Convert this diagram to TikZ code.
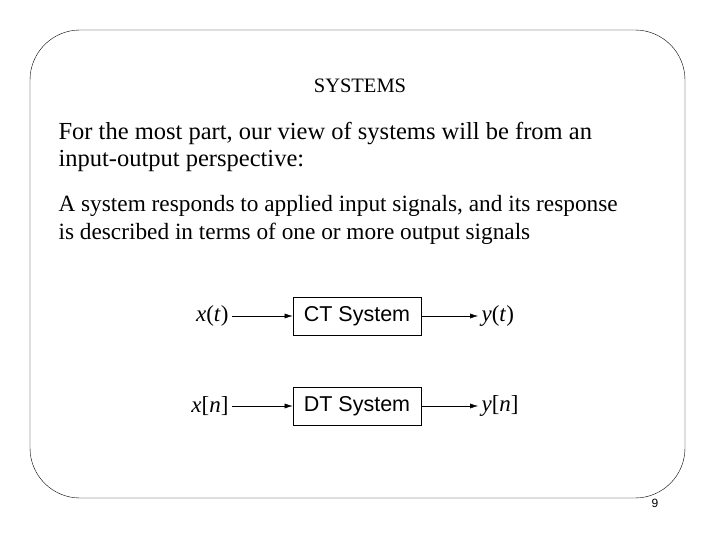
\documentclass[tikz,border=0pt]{standalone}
\usepackage{fontspec}
\setmainfont{Liberation Serif}
\setsansfont{Liberation Sans}
\usetikzlibrary{arrows.meta}
\begin{document}
\begin{tikzpicture}[x=1pt,y=-1pt,
  sysbox/.style={draw,thick,minimum width=128pt,minimum height=38pt,font=\sffamily\fontsize{21.5}{24}\selectfont},
  sig/.style={font=\fontsize{23}{25}\selectfont},
  conn/.style={-{Latex[length=8pt,width=5pt]},thin},
  body/.style={anchor=west,align=left}]
\useasboundingbox (0,0) rectangle (720,540);
\draw[thin,rounded corners=50pt] (30,30) rectangle (685,498);
\node[font=\fontsize{20.5}{22}\selectfont] (title) at (360,86) {SYSTEMS};
\node[body,font=\fontsize{24.5}{27}\selectfont] (p1) at (55,147) {For the most part, our view of systems will be from an\\input-output perspective:};
\node[body,font=\fontsize{23.3}{28}\selectfont] (p2) at (55,220) {A system responds to applied input signals, and its response\\is described in terms of one or more output signals};
\node[sysbox] (ct) at (357,316) {CT System};
\node[sysbox] (dt) at (357,406) {DT System};
\node[sig,anchor=east] (xt) at (232,316) {\textit{x}(\textit{t})};
\node[sig,anchor=east] (xn) at (232,406) {\textit{x}[\textit{n}]};
\node[sig,anchor=west] (yt) at (478,316) {\textit{y}(\textit{t})};
\node[sig,anchor=west] (yn) at (478,406) {\textit{y}[\textit{n}]};
\draw[conn] (xt) -- (ct);
\draw[conn] (xn) -- (dt);
\draw[conn] (ct) -- (yt);
\draw[conn] (dt) -- (yn);
\node[font=\sffamily\fontsize{12}{14}\selectfont] (pg) at (655,503) {9};
\end{tikzpicture}
\end{document}
